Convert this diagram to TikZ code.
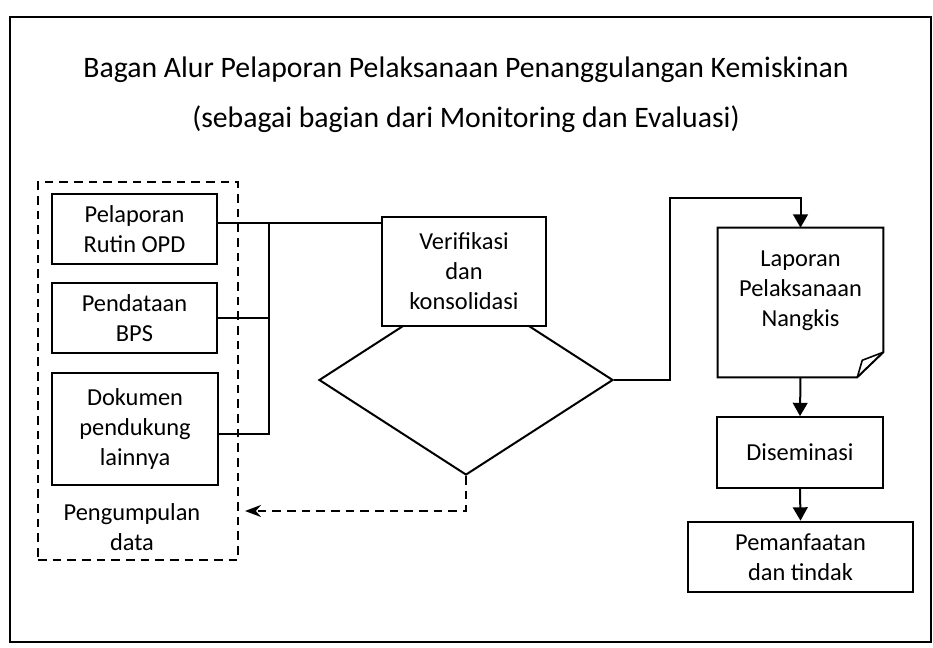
\documentclass[tikz,border=0pt]{standalone}
\usepackage{fontspec}
\setmainfont{Carlito}
\usetikzlibrary{arrows.meta,positioning,calc,shapes.geometric}

\begin{document}
\begin{tikzpicture}[
  x=0.75pt, y=-0.75pt,
  font=\fontsize{18.3}{22.5}\selectfont,
  comp/.style={draw=black, line width=1.5pt, fill=white, align=center, inner sep=2pt,
               minimum width=#1, minimum height=53pt},
  comp/.default=124pt,
  link/.style={line width=1.5pt},
  arr/.style={-{Triangle[length=10pt,width=11pt]}, line width=1.5pt},
  back/.style={dash pattern=on 6.5pt off 4.5pt, line width=1.6pt, -{Stealth[length=12pt,width=9pt]}}]
\useasboundingbox (0,0) rectangle (933,648);
\draw[line width=1.2pt] (10,17) rectangle (931,642);
\node[align=center, font=\fontsize{22.3}{37.5}\selectfont] (title) at (466,95)
  {Bagan Alur Pelaporan Pelaksanaan Penanggulangan Kemiskinan\\(sebagai bagian dari Monitoring dan Evaluasi)};
% pengumpulan data
\node[draw, dash pattern=on 6.5pt off 4.5pt, line width=1.6pt, minimum width=150pt, minimum height=283.5pt] (grp) at (138,371) {};
\node[comp] (pel) at (134.5,229) {Pelaporan\\Rutin OPD};
\node[comp] (pen) at (134.5,318) {Pendataan\\BPS};
\node[comp, minimum height=84pt] (dok) at (135,429) {Dokumen\\pendukung\\lainnya};
\node[align=center] (pgl) at (132,527) {Pengumpulan\\data};
% verifikasi
\node[draw, diamond, line width=1.5pt, minimum width=220.5pt, minimum height=142.5pt, inner sep=0pt] (dia) at (466,380) {};
\node[comp=123pt, minimum height=81.75pt] (ver) at (464,271.5) {Verifikasi\\dan\\konsolidasi};
% laporan
\node[minimum width=123.75pt, minimum height=111.75pt] (lap) at (800.5,302.5) {};
\draw[line width=1.5pt] (lap.north west) -- (lap.north east) -- ($(lap.south east)+(0,-25)$)
  -- ($(lap.south east)+(-26,0)$) -- (lap.south west) -- cycle;
\draw[line width=1.2pt] ($(lap.south east)+(-26,0)$) -- ($(lap.south east)+(-21,-17)$) -- ($(lap.south east)+(0,-25)$);
\node[align=center] (laptxt) at ($(lap.center)+(0,-12)$) {Laporan\\Pelaksanaan\\Nangkis};
\node[comp=124.5pt] (dis) at (800,452.5) {Diseminasi};
\node[comp=168.75pt] (pem) at (800.5,557) {Pemanfaatan\\dan tindak};
% connectors
\coordinate (bus) at (269,0);
\coordinate (pelout) at ([yshift=4.5pt]pel.east);
\coordinate (dokout) at ([yshift=-3.75pt]dok.east);
\draw[link] (pelout) -- (pelout -| ver.west);
\draw[link] (pen.east) -- (pen.east -| bus);
\draw[link] (dokout) -- (dokout -| bus) -- (bus |- pelout);
\coordinate (turn) at (670,198);
\draw[arr] (dia.east) -- (dia.east -| turn) -- (turn) -- (turn -| lap.north) -- (lap.north);
\draw[arr] (lap.south) -- (dis.north);
\draw[arr] (dis.south) -- (pem.north);
\coordinate (retend) at (245,511);
\draw[back] (dia.south) -- (dia.south |- retend) -- (retend);
\end{tikzpicture}
\end{document}
